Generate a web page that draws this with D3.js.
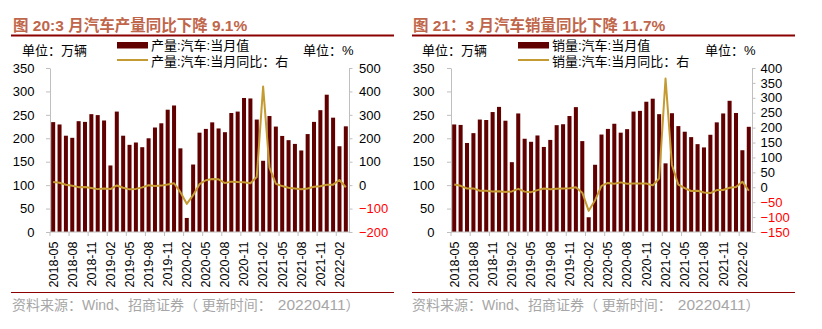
<!DOCTYPE html>
<html><head><meta charset="utf-8">
<script src="https://cdn.jsdelivr.net/npm/d3@7"></script>
<style>
html,body{margin:0;padding:0;background:#fff;}
svg{display:block;}
</style></head>
<body>
<svg id="chart" width="822" height="329"></svg>
<script>
const months = ["2018-05","2018-06","2018-07","2018-08","2018-09","2018-10","2018-11","2018-12",
"2019-01","2019-02","2019-03","2019-04","2019-05","2019-06","2019-07","2019-08","2019-09","2019-10","2019-11","2019-12",
"2020-01","2020-02","2020-03","2020-04","2020-05","2020-06","2020-07","2020-08","2020-09","2020-10","2020-11","2020-12",
"2021-01","2021-02","2021-03","2021-04","2021-05","2021-06","2021-07","2021-08","2021-09","2021-10","2021-11","2021-12",
"2022-01","2022-02","2022-03"];
const tickMonths = ["2018-05","2018-08","2018-11","2019-02","2019-05","2019-08","2019-11","2020-02","2020-05","2020-08","2020-11","2021-02","2021-05","2021-08","2021-11","2022-02"];

const prodValues = [234.5,229.5,205.5,201,236.5,235,251.5,249.5,238,142,257,205.5,186,191,181,200,223,232,261,270,
178.5,30,144,212,220,234,221,213,254,257,286,285,240,152,247.5,225,205,196,188,174,209,235,260,293,244,183,225.5];
const prodYoY = [13.2,10.5,2.0,-3.0,-8.5,-7.5,-12.0,-17.0,-14.0,-16.5,-1.5,-11.0,-18.0,-16.0,-9.5,-0.5,-4.0,-2.0,3.0,8.0,
-30.0,-79.8,-43.0,4.0,21.0,26.0,25.0,9.0,15.0,13.0,12.0,8.0,35.0,420.8,75.0,6.0,-4.0,-11.0,-14.0,-18.0,-14.0,-7.0,-5.0,2.0,2.0,22.0,-9.1];

const salesValues = [229.5,228.5,190,211,240,239,256,267,237.5,149,253,199,192.5,206,181.5,196.5,228,230,247.5,266.5,
194,31.5,143.5,208,220,231,212,219.5,257,258.5,278,284.5,251.5,146.5,253.5,226,214,202.5,187.5,180.5,207.5,234,253,280,254,174.5,224.5];
const salesYoY = [9.6,4.8,-4.0,-3.8,-11.6,-11.7,-13.9,-13.0,-15.8,-13.8,-5.2,-14.6,-16.4,-9.6,-4.3,-6.9,-5.2,-4.0,-3.6,0.1,
-18.0,-79.1,-43.3,4.4,14.5,11.6,16.4,11.6,12.8,12.5,12.6,6.4,29.5,364.9,74.9,8.6,-3.1,-12.4,-11.9,-17.8,-19.6,-9.4,-9.1,-1.6,0.9,18.7,-11.7];

const leftTicks = [0,50,100,150,200,250,300,350];
const prodRightTicks = [-200,-100,0,100,200,300,400,500];
const salesRightTicks = [-150,-100,-50,0,50,100,150,200,250,300,350,400];

const panels = [
  {title:"图 20:3 月汽车产量同比下降 9.1%", titleX:13, ruleX0:11, ruleX1:394,
   x0:50, x1:349,
   barName:"产量:汽车:当月值", lineName:"产量:汽车:当月同比：右",
   unitL:22, swX:117, unitR:303,
   bars:prodValues, line:prodYoY, rTicks:prodRightTicks, rDomain:[-200,500], rPad:6.5, lPad:11.5},
  {title:"图 21：3 月汽车销量同比下降 11.7%", titleX:413, ruleX0:412, ruleX1:795,
   x0:451, x1:752,
   barName:"销量:汽车:当月值", lineName:"销量:汽车:当月同比：右",
   unitL:422, swX:518, unitR:705,
   bars:salesValues, line:salesYoY, rTicks:salesRightTicks, rDomain:[-150,400], rPad:5, lPad:12.5}
];

const svg = d3.select("#chart");
const latin = "'Liberation Sans', Arial, 'Noto Sans CJK SC', sans-serif";
const cjk = "'Liberation Sans', 'Noto Sans CJK SC', sans-serif";
const yTop = 68, yBot = 232;
const barColor = "#600000", lineColor = "#C49A33", axisColor = "#BFBFBF";

panels.forEach(p => {
  const g = svg.append("g");
  // Title
  g.append("text").attr("x", p.titleX).attr("y", 31)
    .attr("font-family", cjk).attr("font-weight", "bold").attr("font-size", 15.5)
    .attr("fill", "#C0664A").text(p.title);
  g.append("line").attr("x1", p.ruleX0).attr("x2", p.ruleX1).attr("y1", 35.5).attr("y2", 35.5)
    .attr("stroke", "#8B0000").attr("stroke-width", 2);
  // bottom rule
  g.append("line").attr("x1", p.ruleX0).attr("x2", p.ruleX1).attr("y1", 292.5).attr("y2", 292.5)
    .attr("stroke", "#8B0000").attr("stroke-width", 1.2);
  // source
  const src = g.append("text").attr("x", p.titleX - 1).attr("y", 310)
    .attr("font-family", cjk).attr("font-size", 14).attr("fill", "#A6A6A6");
  src.append("tspan").text("资料来源：Wind、招商证券（ 更新时间：");
  src.append("tspan").attr("font-size", 15.5).attr("dx", 6).text("20220411");
  src.append("tspan").text("）");

  // units & legend
  g.append("text").attr("x", p.unitL).attr("y", 54.5).attr("font-family", cjk).attr("font-size", 13)
    .attr("fill", "#000").text("单位：万辆");
  g.append("text").attr("x", p.unitR).attr("y", 54.5).attr("font-family", cjk).attr("font-size", 13)
    .attr("fill", "#000").text("单位：%");
  g.append("rect").attr("x", p.swX).attr("y", 42).attr("width", 31).attr("height", 6.5).attr("fill", barColor);
  g.append("text").attr("x", p.swX + 34).attr("y", 50).attr("font-family", cjk).attr("font-size", 13)
    .attr("fill", "#000").text(p.barName);
  g.append("line").attr("x1", p.swX).attr("x2", p.swX + 31).attr("y1", 60).attr("y2", 60)
    .attr("stroke", lineColor).attr("stroke-width", 2);
  g.append("text").attr("x", p.swX + 34).attr("y", 65.5).attr("font-family", cjk).attr("font-size", 13)
    .attr("fill", "#000").text(p.lineName);

  // scales
  const x = d3.scaleBand().domain(months).range([p.x0, p.x1]).paddingInner(0.37).paddingOuter(0.185);
  const yL = d3.scaleLinear().domain([0, 350]).range([yBot, yTop]);
  const yR = d3.scaleLinear().domain(p.rDomain).range([yBot, yTop]);
  const step = x.step();

  // bars
  g.append("g").selectAll("rect").data(p.bars).join("rect")
    .attr("x", (d, i) => x(months[i]))
    .attr("y", d => yL(d))
    .attr("width", x.bandwidth())
    .attr("height", d => yBot - yL(d))
    .attr("fill", barColor);

  // line
  const lineGen = d3.line().x((d, i) => x(months[i]) + x.bandwidth() / 2).y(d => yR(d));
  g.append("path").datum(p.line).attr("d", lineGen)
    .attr("fill", "none").attr("stroke", lineColor).attr("stroke-width", 2).attr("stroke-linejoin", "round");

  // left axis
  const axL = g.append("g").attr("transform", `translate(${p.x0},0)`)
    .call(d3.axisLeft(yL).tickValues(leftTicks).tickSize(4).tickPadding(p.lPad).tickSizeOuter(0));
  axL.select(".domain").attr("stroke", axisColor);
  axL.selectAll(".tick line").attr("stroke", axisColor);
  axL.selectAll(".tick text").attr("font-family", latin).attr("font-size", 13).attr("fill", "#000");

  // right axis
  const axR = g.append("g").attr("transform", `translate(${p.x1},0)`)
    .call(d3.axisRight(yR).tickValues(p.rTicks).tickSize(3.5).tickPadding(p.rPad).tickSizeOuter(0));
  axR.select(".domain").attr("stroke", axisColor);
  axR.selectAll(".tick line").attr("stroke", axisColor);
  axR.selectAll(".tick text").attr("font-family", latin).attr("font-size", 13)
    .attr("fill", d => d < 0 ? "#FF0000" : "#000");

  // bottom axis
  const axB = g.append("g").attr("transform", `translate(0,${yBot})`)
    .call(d3.axisBottom(x).tickValues(tickMonths).tickSize(4).tickSizeOuter(0));
  axB.select(".domain").attr("stroke", axisColor).attr("d", `M${p.x0},0H${p.x1}`);
  axB.selectAll(".tick line").attr("stroke", axisColor).attr("transform", `translate(${-step / 2},0)`);
  axB.selectAll(".tick text")
    .attr("font-family", latin).attr("font-size", 12.5).attr("fill", "#000")
    .attr("text-anchor", "end").attr("y", 0).attr("dy", "0.35em")
    .attr("transform", "translate(0,9.5) rotate(-90)");
});
</script>
</body></html>
